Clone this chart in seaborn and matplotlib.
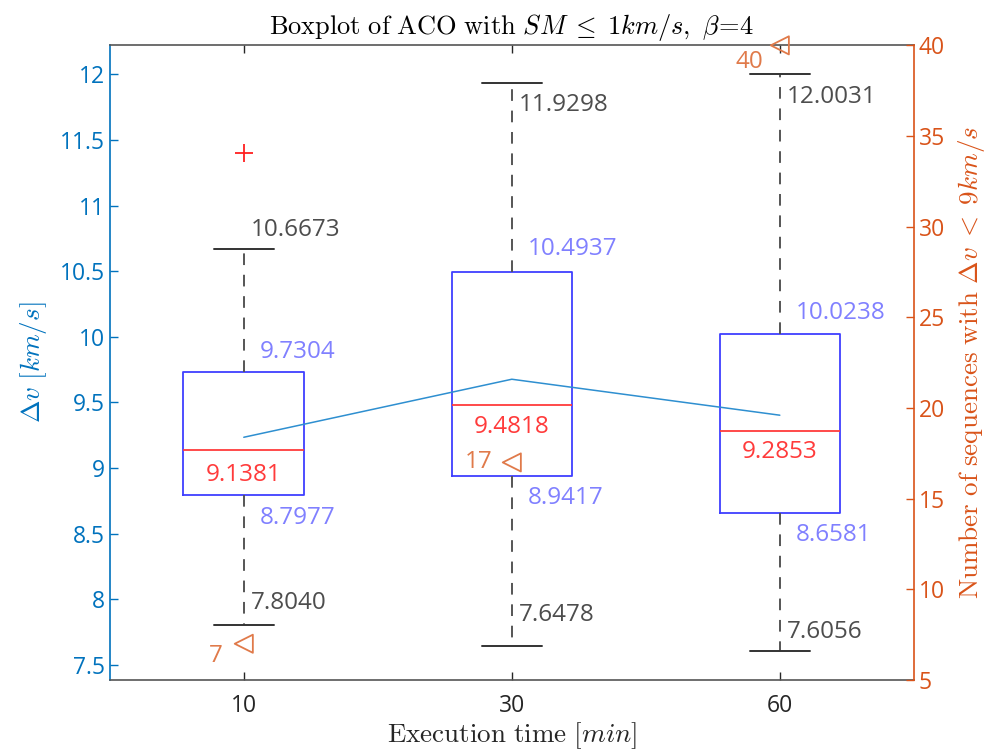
import numpy as np
import pandas as pd
import matplotlib
matplotlib.use("Agg")
import matplotlib.pyplot as plt
import seaborn as sns

# ---------------- data ----------------
times = ["10", "30", "60"]
whisker_low = [7.8040, 7.6478, 7.6056]
q1 = [8.7977, 8.9417, 8.6581]
median = [9.1381, 9.4818, 9.2853]
q3 = [9.7304, 10.4937, 10.0238]
whisker_high = [10.6673, 11.9298, 12.0031]
outlier_time = ["10"]
outlier_val = [11.40]
mean_vals = [9.235, 9.677, 9.403]
count_vals = [7, 17, 40]

# five-number summaries as long table (5 points -> exact quartiles)
rows = []
for t, a, b, c, d, e in zip(times, whisker_low, q1, median, q3, whisker_high):
    for v in (a, b, c, d, e):
        rows.append({"time": t, "dv": v})
df = pd.DataFrame(rows)

# ---------------- style ----------------
sns.set_theme(style="white")
plt.rcParams["font.family"] = ["Open Sans", "DejaVu Sans"]
plt.rcParams["mathtext.fontset"] = "cm"

BLUE_AX = "#0072BD"
ORANGE = "#D95319"
BOX_BLUE = "#3F3FFF"
LBL_BLUE = "#8080FF"
RED = "#FF3B3B"
DARK = "#262626"
GREY_TXT = "#4D4D4D"

fig = plt.figure(figsize=(9.89, 7.56), dpi=100)
ax = fig.add_axes([0.111, 0.1005, 0.813, 0.8395])

sns.boxplot(
    data=df, x="time", y="dv", order=times, ax=ax,
    width=0.45, fill=False, showfliers=False, whis=1.5,
    linewidth=1.3, linecolor=BOX_BLUE,
    boxprops=dict(color=BOX_BLUE, linewidth=1.3),
    medianprops=dict(color=RED, linewidth=1.3),
    whiskerprops=dict(color="#555555", linestyle=(0, (6, 5)), linewidth=1.4),
    capprops=dict(color="#333333", linewidth=1.4),
)

xpos = np.arange(len(times))

# outlier
sns.scatterplot(x=[times.index(t) for t in outlier_time], y=outlier_val, ax=ax,
                marker="+", s=160, color="#FF2020", linewidth=1.3, zorder=5)

# mean line
sns.lineplot(x=xpos, y=mean_vals, ax=ax, color="#2E8FD0", linewidth=1.1, zorder=4)

ax.set_xlim(-0.5, 2.5)
ax.set_ylim(7.386, 12.22)
ax.set_yticks(np.arange(7.5, 12.01, 0.5))
ax.set_yticklabels([f"{v:g}" for v in np.arange(7.5, 12.01, 0.5)])
ax.set_xticks(xpos)
ax.set_xticklabels(times)

# labels for box statistics
wx, qx = 0.025, 0.06
stats = [
    (whisker_high, wx, [19, -22, -23], GREY_TXT, "left"),
    (q3, qx, [20, 23, 21], LBL_BLUE, "left"),
    (median, 0.0, [-25, -22, -21], RED, "center"),
    (q1, qx, [-23, -22, -22], LBL_BLUE, "left"),
    (whisker_low, wx, [22, 31, 19], GREY_TXT, "left"),
]
for vals, dx, offs, col, ha in stats:
    for i, v in enumerate(vals):
        ax.annotate(f"{v:.4f}", xy=(xpos[i] + dx, v), xytext=(0, offs[i]),
                    textcoords="offset pixels", ha=ha, va="center",
                    fontsize=17.5, color=col)

ax.set_title(r"$\mathrm{Boxplot\ of\ ACO\ with\ }SM\;\leq\;1km/s,\ \beta\!=\!4$",
             fontsize=19, color="black", pad=8)
ax.set_xlabel(r"$\mathrm{Execution\ time\ }[min]$", fontsize=19.5, color=DARK, labelpad=2)
ax.set_ylabel(r"$\Delta v\ [km/s]$", fontsize=19.5, color=BLUE_AX, labelpad=8)

ax.tick_params(axis="y", colors=BLUE_AX, labelsize=16.5, direction="in", length=6, width=1)
ax.tick_params(axis="x", colors=DARK, labelsize=16.5, direction="in", length=6, width=1,
               top=True, bottom=True, pad=10)
for s in ["top", "bottom"]:
    ax.spines[s].set_color("#555555")
    ax.spines[s].set_linewidth(1.2)
ax.spines["left"].set_color(BLUE_AX)
ax.spines["left"].set_linewidth(1.2)
ax.spines["right"].set_visible(False)

# right axis: number of sequences
ax2 = ax.twinx()
sns.scatterplot(x=xpos, y=count_vals, ax=ax2, marker="<", s=170, linewidth=1.3,
                color=ORANGE, zorder=6, clip_on=False)
pts = ax2.collections[-1]
pts.set_facecolor("none")
pts.set_edgecolor("#E07A4A")
ax2.set_ylim(5, 40)
ax2.set_yticks(np.arange(5, 41, 5))
ax2.tick_params(axis="y", colors=ORANGE, labelsize=16.5, direction="in", length=6, width=1,
                right=True, left=False)
ax2.set_ylabel(r"$\mathrm{Number\ of\ sequences\ with\ }\Delta v\;<\;9km/s$",
               fontsize=19.5, color=ORANGE, labelpad=8)
for s in ["top", "bottom", "left"]:
    ax2.spines[s].set_visible(False)
ax2.spines["right"].set_color(ORANGE)
ax2.spines["right"].set_linewidth(1.2)

cnt_offsets = [(-28, -12), (-33, 0), (-30, -17)]
for i, c in enumerate(count_vals):
    ax2.annotate(f"{c}", xy=(xpos[i], c), xytext=cnt_offsets[i],
                 textcoords="offset pixels", ha="center", va="center",
                 fontsize=17.5, color="#E07A4A", annotation_clip=False)

fig.savefig("out.png", dpi=100)
